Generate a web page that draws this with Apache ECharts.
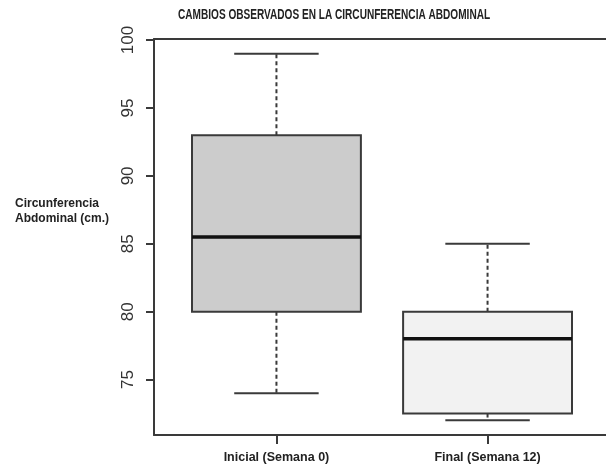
<!DOCTYPE html>
<html>
<head>
<meta charset="utf-8">
<script src="https://cdn.jsdelivr.net/npm/echarts@6/dist/echarts.min.js"></script>
<style>html,body{margin:0;padding:0;background:#fff}#c{width:606px;height:467px}</style>
</head>
<body>
<div id="c"></div>
<script>
const categories = ['Inicial (Semana 0)', 'Final (Semana 12)'];
const minVals = [74, 72];
const q1Vals = [80, 72.5];
const medianVals = [85.5, 78];
const q3Vals = [93, 80];
const maxVals = [99, 85];
const yTicks = [75, 80, 85, 90, 95, 100];
const xTicks = [1, 2];
const chartTitle = 'CAMBIOS OBSERVADOS EN LA CIRCUNFERENCIA ABDOMINAL';
const yName = 'Circunferencia\nAbdominal (cm.)';

const fills = ['#cccccc', '#f2f2f2'];
const data = categories.map((c, i) => [i + 1, minVals[i], q1Vals[i], medianVals[i], q3Vals[i], maxVals[i]]);
const lineCol = '#3a3a3a';

function renderItem(params, api) {
  const x = api.value(0);
  const i = params.dataIndex;
  const pMin = api.coord([x, api.value(1)]);
  const pQ1 = api.coord([x, api.value(2)]);
  const pMed = api.coord([x, api.value(3)]);
  const pQ3 = api.coord([x, api.value(4)]);
  const pMax = api.coord([x, api.value(5)]);
  const bw = api.size([0.8, 0])[0];
  const cw = api.size([0.4, 0])[0];
  const cx = pMed[0];
  return {
    type: 'group',
    children: [
      { type: 'line', shape: { x1: cx, y1: pQ3[1], x2: cx, y2: pMax[1] }, style: { stroke: lineCol, lineWidth: 2, lineDash: [4, 3] } },
      { type: 'line', shape: { x1: cx, y1: pQ1[1], x2: cx, y2: pMin[1] }, style: { stroke: lineCol, lineWidth: 2, lineDash: [4, 3] } },
      { type: 'line', shape: { x1: cx - cw / 2, y1: pMax[1], x2: cx + cw / 2, y2: pMax[1] }, style: { stroke: lineCol, lineWidth: 2 } },
      { type: 'line', shape: { x1: cx - cw / 2, y1: pMin[1], x2: cx + cw / 2, y2: pMin[1] }, style: { stroke: lineCol, lineWidth: 2 } },
      { type: 'rect', shape: { x: cx - bw / 2, y: pQ3[1], width: bw, height: pQ1[1] - pQ3[1] }, style: { fill: fills[i], stroke: lineCol, lineWidth: 2 } },
      { type: 'line', shape: { x1: cx - bw / 2, y1: pMed[1], x2: cx + bw / 2, y2: pMed[1] }, style: { stroke: '#111', lineWidth: 3.5 } }
    ]
  };
}

const chart = echarts.init(document.getElementById('c'), null, { renderer: 'canvas' });
chart.setOption({
  backgroundColor: '#fff',
  animation: false,
  title: [
    { text: yName, left: 10, top: 191,
      textStyle: { fontSize: 12, fontWeight: 'bold', color: '#222', lineHeight: 15, fontFamily: '"Liberation Sans", Arial, sans-serif' } }
  ],
  graphic: [
    { type: 'text', left: 178, top: 8, scaleX: 0.72, originX: 0,
      style: { text: chartTitle, fontSize: 14, fontWeight: 'bold', fill: '#222', fontFamily: '"Liberation Sans", Arial, sans-serif' } }
  ],
  grid: { left: 154, top: 39, width: 456, height: 396, outerBoundsMode: 'none', containLabel: false, show: false },
  xAxis: [{
    type: 'value', min: 0.42, max: 2.58, position: 'bottom',
    axisLine: { show: true, onZero: false, lineStyle: { color: lineCol, width: 2 } }, splitLine: { show: false },
    axisTick: { show: true, customValues: xTicks, length: 9, lineStyle: { color: lineCol, width: 2 } },
    axisLabel: { customValues: xTicks, formatter: v => categories[Math.round(v) - 1], margin: 16, fontSize: 12.5, fontWeight: 'bold', color: '#222', fontFamily: '"Liberation Sans", Arial, sans-serif' }
  }, {
    type: 'value', min: 0.42, max: 2.58, position: 'top',
    axisLine: { show: true, onZero: false, lineStyle: { color: lineCol, width: 2 } }, splitLine: { show: false },
    axisTick: { show: false }, axisLabel: { show: false }
  }],
  yAxis: {
    type: 'value', min: 70.92, max: 100.08,
    axisLine: { show: true, onZero: false, lineStyle: { color: lineCol, width: 2 } }, splitLine: { show: false },
    axisTick: { show: true, customValues: yTicks, length: 8, lineStyle: { color: lineCol, width: 2 } },
    axisLabel: { customValues: yTicks, rotate: 90, margin: 17, fontSize: 17, color: '#333', fontFamily: '"Liberation Sans", Arial, sans-serif' }
  },
  series: [{
    type: 'custom', renderItem: renderItem, data: data, xAxisIndex: 0, yAxisIndex: 0,
    encode: { x: 0, y: [1, 2, 3, 4, 5] }, clip: false
  }]
});
</script>
</body>
</html>
